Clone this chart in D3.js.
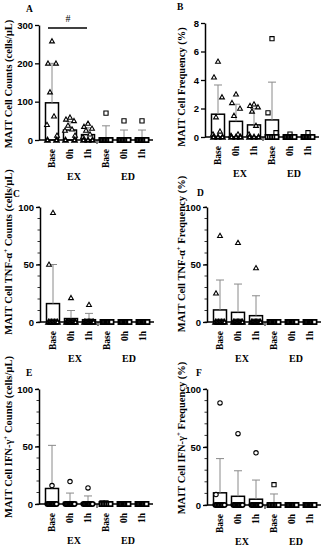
<!DOCTYPE html>
<html lang="en">
<head>
  <meta charset="UTF-8">
  <title>MAIT cells</title>
  <script src="https://d3js.org/d3.v7.min.js"></script>
  <style>
    body { margin: 0; background: #fff; }
    svg { display: block; font-family: "Liberation Serif", "Times New Roman", serif; font-weight: bold; }
  </style>
</head>
<body>
  <svg width="332" height="550"></svg>
  <script>
    // categories
    const timepoints = ["Base", "0h", "1h"];
    const groups = ["EX", "ED"];

    // panel A : MAIT counts
    const aMean = [97, 26, 14, 5, 3, 3];
    const aSD = [103, 22, 18, 32, 23, 23];
    const aPts = [
      [258, 200, 200, 125, 62, 40, 12, 0, 0],
      [59, 54, 50, 38, 28, 25, 12, 0, 0],
      [43, 35, 30, 25, 15, 8, 0, 0, 0],
      [70, 0, 0, 0, 0, 0, 0, 0],
      [50, 0, 0, 0, 0, 0, 0, 0],
      [50, 0, 0, 0, 0, 0, 0, 0]
    ];
    const aTicks = [0, 100, 200, 300];

    // panel B : MAIT frequency
    const bMean = [1.6, 1.1, 0.85, 1.2, 0.05, 0.05];
    const bSD = [2.05, 1.2, 1.15, 2.65, 0.1, 0.1];
    const bPts = [
      [5.3, 4.2, 2.8, 1.4, 0.4, 0.2, 0, 0, 0],
      [3.0, 2.4, 2.0, 1.5, 0.2, 0.1, 0, 0, 0],
      [2.3, 2.2, 2.1, 1.8, 0.8, 0.2, 0, 0, 0],
      [6.9, 1.7, 0.3, 0, 0, 0, 0, 0],
      [0.2, 0, 0, 0, 0, 0, 0, 0],
      [0.3, 0, 0, 0, 0, 0, 0, 0]
    ];
    const bTicks = [0, 2, 4, 6, 8];

    // panel C : TNF-a+ counts
    const cMean = [16, 3, 2, 0, 0, 0];
    const cSD = [34, 7, 5.5, 0, 0, 0];
    const cPts = [
      [95, 50, 0, 0, 0, 0, 0, 0, 0],
      [21, 0, 0, 0, 0, 0, 0, 0, 0],
      [15, 0, 0, 0, 0, 0, 0, 0, 0],
      [0, 0, 0, 0, 0, 0, 0, 0],
      [0, 0, 0, 0, 0, 0, 0, 0],
      [0, 0, 0, 0, 0, 0, 0, 0]
    ];

    // panel D : TNF-a+ frequency
    const dMean = [10.5, 8.4, 5.5, 0, 0, 0];
    const dSD = [26, 24.6, 17.3, 0, 0, 0];
    const dPts = [
      [75, 25, 0, 0, 0, 0, 0, 0, 0],
      [69, 0, 0, 0, 0, 0, 0, 0, 0],
      [47, 0, 0, 0, 0, 0, 0, 0, 0],
      [0, 0, 0, 0, 0, 0, 0, 0],
      [0, 0, 0, 0, 0, 0, 0, 0],
      [0, 0, 0, 0, 0, 0, 0, 0]
    ];

    // panel E : IFN-g+ counts
    const eMean = [13.5, 1.5, 1, 0.5, 0, 0];
    const eSD = [37.5, 8, 6, 0.5, 0, 0];
    const ePts = [
      [16, 0, 0, 0, 0, 0, 0, 0, 0],
      [19.5, 0, 0, 0, 0, 0, 0, 0, 0],
      [14, 0, 0, 0, 0, 0, 0, 0, 0],
      [1, 1, 0, 0, 0, 0, 0, 0],
      [0, 0, 0, 0, 0, 0, 0, 0],
      [0, 0, 0, 0, 0, 0, 0, 0]
    ];

    // panel F : IFN-g+ frequency
    const fMean = [10.5, 7.5, 5, 1, 0, 0];
    const fSD = [29.5, 22, 16.5, 8.5, 0, 0];
    const fPts = [
      [88, 9, 0, 0, 0, 0, 0, 0, 0],
      [61.5, 0, 0, 0, 0, 0, 0, 0, 0],
      [45, 0, 0, 0, 0, 0, 0, 0, 0],
      [17.5, 0, 0, 0, 0, 0, 0, 0],
      [0, 0, 0, 0, 0, 0, 0, 0],
      [0, 0, 0, 0, 0, 0, 0, 0]
    ];
    const pctTicks = [0, 50, 100];

    const panels = [
      { letter: "A", lx: 26, ly: 12, ax: 39, top: 25, bottom: 140, max: 300, ticks: aTicks, minor: null,
        mean: aMean, sd: aSD, pts: aPts, exShape: "tri", tx: 8, ty: 84,
        title: [["MAIT Cell Counts (cells/µL)"]] },
      { letter: "B", lx: 177, ly: 10, ax: 205, top: 23, bottom: 137, max: 8, ticks: bTicks, minor: null,
        mean: bMean, sd: bSD, pts: bPts, exShape: "tri", tx: 181, ty: 87,
        title: [["MAIT Cell Frequency (%)"]] },
      { letter: "C", lx: 13, ly: 197, ax: 40, top: 207, bottom: 322, max: 100, ticks: pctTicks, minor: 10,
        mean: cMean, sd: cSD, pts: cPts, exShape: "tri", tx: 8, ty: 252,
        title: [["MAIT Cell TNF-α"], ["+", "sup"], [" Counts (cells/µL)"]] },
      { letter: "D", lx: 197, ly: 196, ax: 207, top: 207, bottom: 322, max: 100, ticks: pctTicks, minor: 10,
        mean: dMean, sd: dSD, pts: dPts, exShape: "tri", tx: 181, ty: 254,
        title: [["MAIT Cell TNF-α"], ["+", "sup"], [" Frequency (%)"]] },
      { letter: "E", lx: 26, ly: 376, ax: 39, top: 389, bottom: 504, max: 100, ticks: pctTicks, minor: 10,
        mean: eMean, sd: eSD, pts: ePts, exShape: "circ", tx: 8, ty: 437,
        title: [["MAIT Cell IFN-γ"], ["+", "sup"], [" Counts (cells/µL)"]] },
      { letter: "F", lx: 196, ly: 376, ax: 207, top: 389, bottom: 505, max: 100, ticks: pctTicks, minor: 10,
        mean: fMean, sd: fSD, pts: fPts, exShape: "circ", tx: 181, ty: 438,
        title: [["MAIT Cell IFN-γ"], ["+", "sup"], [" Frequency (%)"]] }
    ];

    const svg = d3.select("svg");
    const keys = groups.flatMap(g => timepoints.map(t => g + "-" + t));
    const jitter = [0, -4, 4, -2, 2, -5, 5, -1, 1];

    function marker(shape) {
      if (shape === "tri") return "M0,-2.4L2.4,1.8L-2.4,1.8Z";
      if (shape === "sq") return "M-2.1,-2.1H2.1V2.1H-2.1Z";
      return d3.arc()({ innerRadius: 0, outerRadius: 2.2, startAngle: 0, endAngle: 2 * Math.PI });
    }

    panels.forEach(p => {
      const g = svg.append("g");
      const x = d3.scalePoint().domain(keys).range([p.ax + 13, p.ax + 103]);
      const y = d3.scaleLinear().domain([0, p.max]).range([p.bottom, p.top]);

      // panel letter
      g.append("text").attr("x", p.lx).attr("y", p.ly).attr("font-size", 9.5).text(p.letter);

      // y title
      const t = g.append("text")
        .attr("transform", `translate(${p.tx},${p.ty}) rotate(-90)`)
        .attr("text-anchor", "middle").attr("dy", "0.35em").attr("font-size", 10.5);
      p.title.forEach((s, k) => {
        const ts = t.append("tspan").text(s[0]);
        if (s[1] === "sup") ts.attr("font-size", 7).attr("dy", -4);
        else if (k > 0) ts.attr("dy", 4);
      });

      // minor ticks
      if (p.minor) {
        g.append("g").selectAll("line")
          .data(d3.range(0, p.max + 0.001, p.minor))
          .join("line")
          .attr("x1", p.ax - 2.5).attr("x2", p.ax)
          .attr("y1", d => y(d)).attr("y2", d => y(d))
          .attr("stroke", "#000").attr("stroke-width", 0.8);
      }

      // y axis
      const yAxis = g.append("g").attr("transform", `translate(${p.ax},0)`)
        .call(d3.axisLeft(y).tickValues(p.ticks).tickSize(4).tickPadding(2).tickSizeOuter(0));
      yAxis.select(".domain").attr("stroke-width", 1.5);
      yAxis.selectAll(".tick line").attr("stroke-width", 1.3);
      yAxis.selectAll(".tick text").attr("font-size", 9.5).attr("font-family", null).attr("font-weight", "bold");

      // bars
      g.append("g").selectAll("rect")
        .data(p.mean)
        .join("rect")
        .attr("x", (d, i) => x(keys[i]) - 6.5)
        .attr("width", 13)
        .attr("y", d => y(d))
        .attr("height", d => p.bottom - y(d))
        .attr("fill", "#fff").attr("stroke", "#000").attr("stroke-width", 1.5);

      // error bars (upper)
      const eb = g.append("g").attr("stroke", "#8a8a8a").attr("stroke-width", 1);
      p.mean.forEach((m, i) => {
        if (p.sd[i] <= 0) return;
        const cx = x(keys[i]);
        eb.append("line").attr("x1", cx).attr("x2", cx).attr("y1", y(m)).attr("y2", y(m + p.sd[i]));
        eb.append("line").attr("x1", cx - 4).attr("x2", cx + 4).attr("y1", y(m + p.sd[i])).attr("y2", y(m + p.sd[i]));
      });

      // x axis with break
      const xa = g.append("g").attr("stroke", "#000");
      xa.append("line").attr("x1", p.ax).attr("x2", p.ax + 114)
        .attr("y1", p.bottom).attr("y2", p.bottom).attr("stroke-width", 1.5);
      xa.append("line").attr("x1", p.ax + 58).attr("x2", p.ax + 58)
        .attr("y1", p.bottom).attr("y2", p.bottom + 4).attr("stroke-width", 1);

      // points: non-zero values jittered, zeros packed across the bar
      p.pts.forEach((arr, i) => {
        const shape = i < 3 ? p.exShape : "sq";
        const nz = arr.filter(v => v === 0).length;
        let zi = 0;
        const offs = arr.map((v, j) => v === 0 ? (nz > 1 ? -4.5 + 9 * (zi++) / (nz - 1) : 0) : jitter[j % jitter.length]);
        g.append("g").selectAll("path")
          .data(arr)
          .join("path")
          .attr("d", marker(shape))
          .attr("transform", (d, j) => `translate(${x(keys[i]) + offs[j]},${y(d)})`)
          .attr("fill", "#fff").attr("stroke", "#000")
          .attr("stroke-width", d => d === 0 ? 1.7 : 1.1);
      });

      // x tick labels
      g.append("g").selectAll("text")
        .data(keys)
        .join("text")
        .attr("transform", d => `translate(${x(d)},${p.bottom + 9}) rotate(-90)`)
        .attr("text-anchor", "end").attr("dy", "0.35em").attr("font-size", 9.5)
        .text(d => d.split("-")[1]);

      // group labels
      g.append("g").selectAll("text")
        .data(groups)
        .join("text")
        .attr("x", (d, i) => p.ax + (i === 0 ? 35 : 89))
        .attr("y", p.bottom + 40)
        .attr("text-anchor", "middle").attr("font-size", 10)
        .text(d => d);

      // significance in A
      if (p.letter === "A") {
        g.append("line").attr("x1", p.ax + 9).attr("x2", p.ax + 48)
          .attr("y1", 28).attr("y2", 28).attr("stroke", "#000").attr("stroke-width", 1.6);
        g.append("text").attr("x", p.ax + 29).attr("y", 22).attr("text-anchor", "middle")
          .attr("font-size", 10).attr("font-weight", "normal").text("#");
      }
    });
  </script>
</body>
</html>
